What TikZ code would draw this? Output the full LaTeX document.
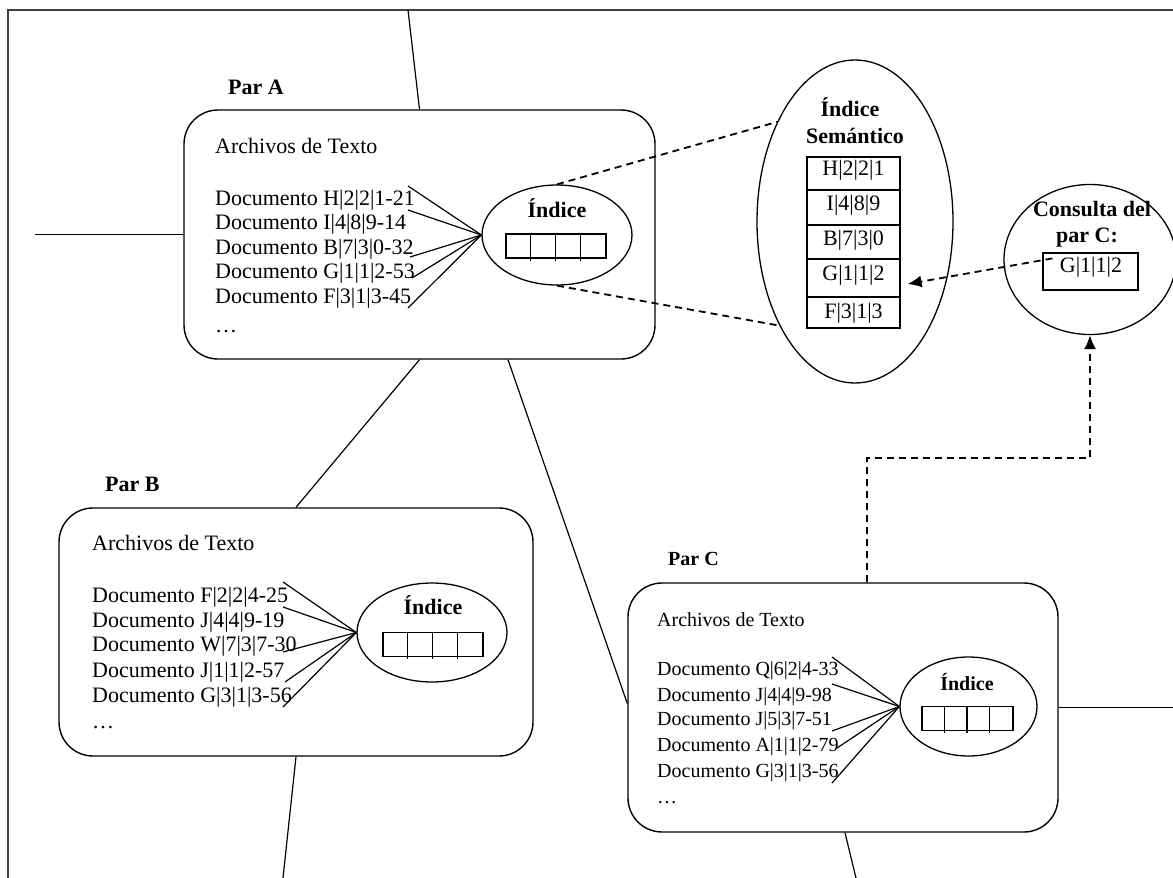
\documentclass[tikz,border=0pt]{standalone}
\usepackage{fontspec}
\setmainfont{Liberation Serif}
\usetikzlibrary{shapes.geometric,arrows.meta}
\tikzset{
  txt/.style={inner sep=0pt, anchor=base west},
  ctxt/.style={inner sep=0pt, anchor=base},
  lbl/.style={inner sep=0pt, anchor=base, font=\fontsize{22pt}{24pt}\selectfont\bfseries},
  small/.style={font=\fontsize{20pt}{24pt}\selectfont},
  smalllbl/.style={font=\fontsize{20pt}{24pt}\selectfont\bfseries},
  peer/.style={draw, rounded corners=34pt, line width=1.4pt, inner sep=0pt},
  idx/.style={draw, ellipse, line width=1.3pt, inner sep=0pt},
  cellbox/.style={draw, line width=1.2pt, inner sep=0pt},
  link/.style={line width=1.2pt},
  frameline/.style={line width=2pt, draw=black!75},
  dlink/.style={line width=1.8pt, dash pattern=on 7pt off 5pt},
  darrow/.style={dlink, -{Latex[length=14pt,width=12pt]}}
}
\newcommand\cellrow[4]{% name, cx, cy, width
  \node[cellbox, minimum width=#4pt, minimum height=24pt] (#1) at (#2,#3) {};
  \foreach \k in {1,2,3}{
    \draw[line width=1.2pt] ([xshift=\k*#4pt/4]#1.north west) -- ([xshift=\k*#4pt/4, yshift=-2pt]#1.south west);
  }
}
\begin{document}
\begin{tikzpicture}[x=1pt, y=-1pt, font=\fontsize{22pt}{24pt}\selectfont]
\useasboundingbox (0,0) rectangle (1173,878);

% frame
\draw[frameline] (8,878) -- (8,10) -- (1173,10);

% ---------- Par A ----------
\node[lbl, anchor=base west] (parA) at (228,94) {Par A};
\node[peer, minimum width=471pt, minimum height=249pt] (boxA) at (419.5,234.5) {};
\node[txt] (arA) at (215,153) {Archivos de Texto};
\node[txt] (a1) at (215,205) {Documento H|2|2|1-21};
\node[txt] (a2) at (215,229) {Documento I|4|8|9-14};
\node[txt] (a3) at (215,254) {Documento B|7|3|0-32};
\node[txt] (a4) at (215,278) {Documento G|1|1|2-53};
\node[txt] (a5) at (215,303) {Documento F|3|1|3-45};
\node[txt] (a6) at (215,332) {\ldots};
\node[idx, minimum width=150pt, minimum height=100pt] (idxA) at (557,235) {};
\node[lbl] (idxAt) at (557,217) {Índice};
\cellrow{cellsA}{556}{246}{100}
\coordinate (sa1) at (408,186);
\coordinate (sa2) at (408,210);
\coordinate (sa3) at (410,257);
\coordinate (sa4) at (412,278);
\coordinate (sa5) at (408,308);
\foreach \i in {1,...,5} \draw[link] (sa\i) -- (idxA.west);

% ---------- Par B ----------
\node[lbl, anchor=base west] (parB) at (105,491) {Par B};
\node[peer, minimum width=474pt, minimum height=248pt] (boxB) at (296,632) {};
\node[txt] (arB) at (92,550) {Archivos de Texto};
\node[txt] (b1) at (92,602) {Documento F|2|2|4-25};
\node[txt] (b2) at (92,627) {Documento J|4|4|9-19};
\node[txt] (b3) at (92,651) {Documento W|7|3|7-30};
\node[txt] (b4) at (92,677) {Documento J|1|1|2-57};
\node[txt] (b5) at (92,702) {Documento G|3|1|3-56};
\node[txt] (b6) at (92,728) {\ldots};
\node[idx, minimum width=150pt, minimum height=99pt] (idxB) at (432,632.5) {};
\node[lbl] (idxBt) at (433,614) {Índice};
\cellrow{cellsB}{433}{644.5}{100}
\coordinate (sb1) at (283,582);
\coordinate (sb2) at (283,607);
\coordinate (sb3) at (283,652);
\coordinate (sb4) at (285,682);
\coordinate (sb5) at (283,707);
\foreach \i in {1,...,5} \draw[link] (sb\i) -- (idxB.west);

% ---------- Par C ----------
\node[lbl, smalllbl, anchor=base west] (parC) at (668,565) {Par C};
\node[peer, minimum width=430pt, minimum height=249pt] (boxC) at (843,707.5) {};
\node[txt, small] (arC) at (657,626) {Archivos de Texto};
\node[txt, small] (c1) at (657,675) {Documento Q|6|2|4-33};
\node[txt, small] (c2) at (657,701) {Documento J|4|4|9-98};
\node[txt, small] (c3) at (657,725) {Documento J|5|3|7-51};
\node[txt, small] (c4) at (657,751) {Documento A|1|1|2-79};
\node[txt, small] (c5) at (657,777) {Documento G|3|1|3-56};
\node[txt, small] (c6) at (657,803) {\ldots};
\node[idx, minimum width=137pt, minimum height=99pt] (idxC) at (968.5,706.5) {};
\node[lbl, smalllbl] (idxCt) at (967,690) {Índice};
\cellrow{cellsC}{967.5}{718.5}{91}
\coordinate (sc1) at (832,657);
\coordinate (sc2) at (832,684);
\coordinate (sc3) at (832,731);
\coordinate (sc4) at (837,748);
\coordinate (sc5) at (832,783);
\foreach \i in {1,...,5} \draw[link] (sc\i) -- (idxC.west);

% ---------- Indice Semantico ----------
\node[idx, minimum width=196pt, minimum height=323pt] (sem) at (855,221.5) {};
\node[lbl] (semt1) at (850,116) {Índice};
\node[lbl] (semt2) at (855,143) {Semántico};
\node[cellbox, minimum width=93pt, minimum height=33pt] (rH) at (853.5,173.5) {};
\node[cellbox, minimum width=93pt, minimum height=35pt] (rI) at (853.5,207.5) {};
\node[cellbox, minimum width=93pt, minimum height=34pt] (rB) at (853.5,242) {};
\node[cellbox, minimum width=93pt, minimum height=38pt] (rG) at (853.5,278) {};
\node[cellbox, minimum width=93pt, minimum height=31pt] (rF) at (853.5,312.5) {};
\node[ctxt] at (853.5,175) {H|2|2|1};
\node[ctxt] at (853.5,210) {I|4|8|9};
\node[ctxt] at (853.5,245) {B|7|3|0};
\node[ctxt] at (853.5,280) {G|1|1|2};
\node[ctxt] at (853.5,318) {F|3|1|3};

% ---------- Consulta ----------
\node[idx, minimum width=172pt, minimum height=150pt] (cons) at (1090,259.5) {};
\node[lbl] (const1) at (1092,216) {Consulta del};
\node[lbl] (const2) at (1087,242) {par C:};
\node[cellbox, minimum width=95pt, minimum height=37pt] (qbox) at (1090.5,271.5) {};
\node[ctxt] (qtext) at (1091,272) {G|1|1|2};

% ---------- connectors ----------
\coordinate (fA) at (408,10);
\coordinate (lA) at (35,234.5);
\coordinate (bB) at (283,878);
\coordinate (rC) at (1173,707.5);
\coordinate (bC) at (856,878);
\coordinate (turn) at (1090,458);

\draw[link] (fA) -- (boxA.north);
\draw[link] (lA) -- (boxA.west);
\draw[link] (boxA.south) -- (boxB.north);
\draw[link] ([xshift=88.5pt]boxA.south) -- ([yshift=4pt]boxC.west);
\draw[link] (boxB.south) -- (bB);
\draw[link] (boxC.east) -- (rC);
\draw[link] ([xshift=2pt]boxC.south) -- (bC);

\draw[dlink] (idxA.north) -- (sem.128);
\draw[dlink] (idxA.south) -- (sem.234);
\draw[darrow] ([shift={(10pt,-6pt)}]qbox.north west) -- ([shift={(7pt,-6pt)}]rG.east);
\draw[darrow] ([xshift=24pt]boxC.north) |- (turn) -- (cons.south);
\end{tikzpicture}
\end{document}
